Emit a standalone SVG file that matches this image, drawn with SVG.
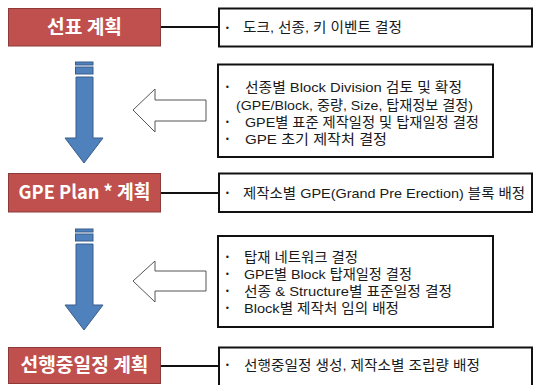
<svg xmlns="http://www.w3.org/2000/svg" width="533" height="385" viewBox="0 0 533 385">
<defs>
<style>
.stage{fill:#C0504D;stroke:#8C3B39;stroke-width:1}
.stitle{font-family:"Noto Sans CJK KR","Noto Sans",sans-serif;font-weight:bold;font-size:19px;fill:#fff;text-anchor:middle}
.box{fill:#fff;stroke:#111;stroke-width:2}
.t{font-family:"Liberation Sans","Noto Sans CJK KR",sans-serif;font-size:13.5px;fill:#1a1a1a}
.b{font-family:"DejaVu Sans",sans-serif;font-size:8px}
.conn{stroke:#111;stroke-width:2;fill:none}
.down{fill:#4F81BD;stroke:#385D8A;stroke-width:1}
.left{fill:#fff;stroke:#555;stroke-width:1}
</style>
</defs>
<rect width="533" height="385" fill="#fff"/>
<g id="connectors">
<line class="conn" x1="161" y1="27" x2="219" y2="27"/>
<line class="conn" x1="161" y1="193" x2="219" y2="193"/>
<line class="conn" x1="161" y1="366" x2="219" y2="366"/>
<g id="down1">
<rect class="down" x="75.5" y="62" width="17.5" height="3"/>
<rect class="down" x="75.5" y="67" width="17.5" height="7"/>
<polygon class="down" points="76,77 93,77 93,138 103,138 84,163 65,138 76,138"/>
</g>
<g id="down2">
<rect class="down" x="75.5" y="229" width="17.5" height="3"/>
<rect class="down" x="75.5" y="234" width="17.5" height="7"/>
<polygon class="down" points="76,244 93,244 93,305 103,305 84,330 65,305 76,305"/>
</g>
<polygon id="left1" class="left" points="206,100 206,121 155,121 155,132 133,110 155,89 155,100"/>
<polygon id="left2" class="left" points="206,271 206,291 155,291 155,302 133,281 155,261 155,271"/>
</g>
<g id="stage1">
<rect class="stage" x="8.5" y="8.5" width="152" height="37.5"/>
<text class="stitle" x="84.5" y="34" textLength="75" lengthAdjust="spacingAndGlyphs">선표 계획</text>
</g>
<g id="stage2">
<rect class="stage" x="8.5" y="173.5" width="152" height="38.5"/>
<text class="stitle" x="84.5" y="199" textLength="132" lengthAdjust="spacingAndGlyphs">GPE Plan * 계획</text>
</g>
<g id="stage3">
<rect class="stage" x="8.5" y="347.5" width="152" height="36"/>
<text class="stitle" x="84.5" y="372" textLength="128" lengthAdjust="spacingAndGlyphs">선행중일정 계획</text>
</g>
<g id="note1">
<rect class="box" x="219" y="8.5" width="313" height="38"/>
<text class="t"><tspan class="b" x="225" y="31">•</tspan><tspan x="243" y="32" textLength="159" lengthAdjust="spacingAndGlyphs">도크, 선종, 키 이벤트 결정</tspan></text>
</g>
<g id="note2">
<rect class="box" x="218" y="64.5" width="275" height="92.5"/>
<text class="t"><tspan class="b" x="225" y="90">•</tspan><tspan x="245" y="92" textLength="217" lengthAdjust="spacingAndGlyphs">선종별 Block Division 검토 및 확정</tspan><tspan x="236" y="109.5" textLength="237" lengthAdjust="spacingAndGlyphs">(GPE/Block, 중량, Size, 탑재정보 결정)</tspan><tspan class="b" x="225" y="125">•</tspan><tspan x="245" y="127" textLength="234" lengthAdjust="spacingAndGlyphs">GPE별 표준 제작일정 및 탑재일정 결정</tspan><tspan class="b" x="225" y="142">•</tspan><tspan x="245" y="144" textLength="142" lengthAdjust="spacingAndGlyphs">GPE 초기 제작처 결정</tspan></text>
</g>
<g id="note3">
<rect class="box" x="219" y="173.5" width="313" height="38.5"/>
<text class="t"><tspan class="b" x="225" y="196">•</tspan><tspan x="243" y="198" textLength="282" lengthAdjust="spacingAndGlyphs">제작소별 GPE(Grand Pre Erection) 블록 배정</tspan></text>
</g>
<g id="note4">
<rect class="box" x="218" y="236" width="275" height="91"/>
<text class="t"><tspan class="b" x="225" y="260">•</tspan><tspan x="244" y="262" textLength="114" lengthAdjust="spacingAndGlyphs">탑재 네트워크 결정</tspan><tspan class="b" x="225" y="277">•</tspan><tspan x="244" y="279" textLength="168" lengthAdjust="spacingAndGlyphs">GPE별 Block 탑재일정 결정</tspan><tspan class="b" x="225" y="294">•</tspan><tspan x="244" y="296" textLength="208" lengthAdjust="spacingAndGlyphs">선종 &amp; Structure별 표준일정 결정</tspan><tspan class="b" x="225" y="311">•</tspan><tspan x="244" y="313" textLength="155" lengthAdjust="spacingAndGlyphs">Block별 제작처 임의 배정</tspan></text>
</g>
<g id="note5">
<rect class="box" x="219" y="347.5" width="313" height="40"/>
<text class="t"><tspan class="b" x="225" y="368">•</tspan><tspan x="244" y="370" textLength="236" lengthAdjust="spacingAndGlyphs">선행중일정 생성, 제작소별 조립량 배정</tspan></text>
</g>
</svg>
